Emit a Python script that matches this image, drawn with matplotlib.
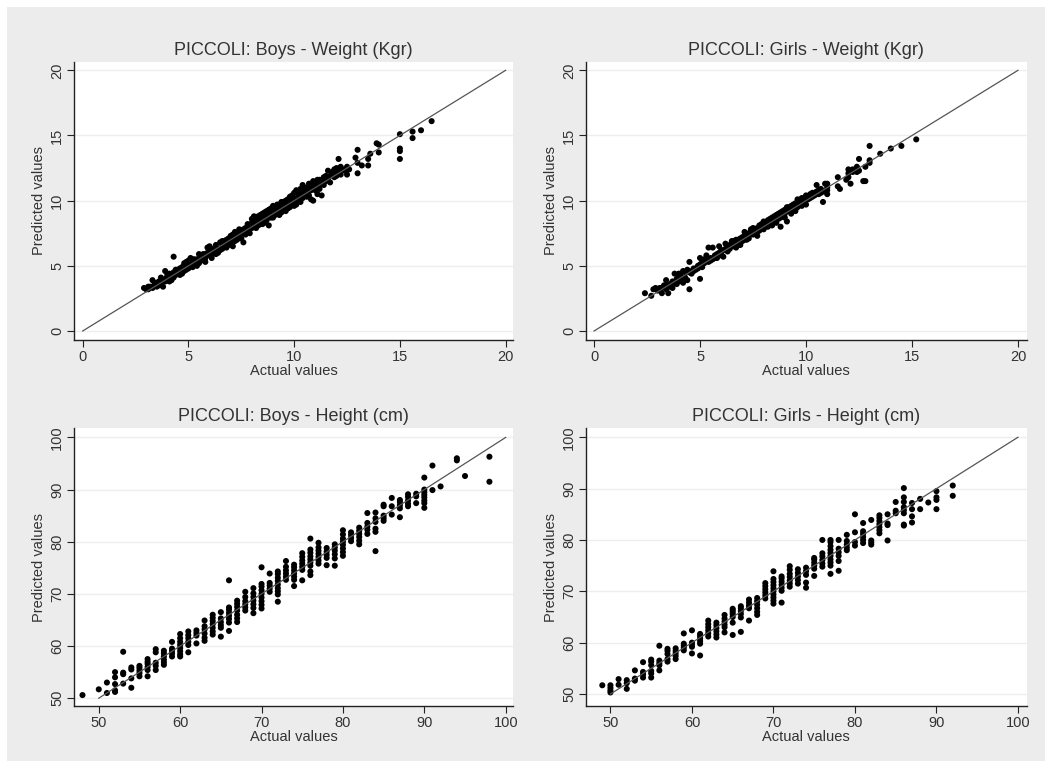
import numpy as np
import matplotlib
matplotlib.use("Agg")
import matplotlib.pyplot as plt
from matplotlib.patches import Rectangle

# ---------------------------------------------------------------------------
# Data
# ---------------------------------------------------------------------------

# Boys weight (actual, predicted) in kg
boys_w_actual = [2.9, 3.0, 3.1, 3.2, 3.3, 3.3, 3.4, 3.5, 3.5, 3.6, 3.7, 3.7, 3.8, 3.8, 3.9, 3.9, 4.0, 4.0,
                 4.1, 4.2, 4.2, 4.3, 4.3, 4.4, 4.4, 4.5, 4.6, 4.6, 4.7, 4.7, 4.8, 4.8, 4.9, 4.9, 5.0, 5.0,
                 5.1, 5.1, 5.2, 5.2, 5.3, 5.4, 5.4, 5.5, 5.5, 5.6, 5.7, 5.7, 5.8, 5.8, 5.9, 5.9, 6.0, 6.0,
                 6.1, 6.1, 6.2, 6.2, 6.3, 6.3, 6.4, 6.5, 6.5, 6.6, 6.6, 6.7, 6.7, 6.8, 6.9, 6.9, 7.0, 7.0,
                 7.1, 7.1, 7.2, 7.2, 7.3, 7.3, 7.4, 7.5, 7.5, 7.6, 7.6, 7.7, 7.7, 7.8, 7.8, 7.9, 8.0, 8.0,
                 8.1, 8.1, 8.2, 8.2, 8.3, 8.3, 8.4, 8.4, 8.5, 8.5, 8.6, 8.6, 8.7, 8.7, 8.8, 8.8, 8.9, 8.9,
                 9.0, 9.0, 9.1, 9.1, 9.2, 9.3, 9.3, 9.4, 9.5, 9.5, 9.6, 9.7, 9.7, 9.8, 9.9, 9.9, 10.0, 10.0,
                 10.1, 10.1, 10.2, 10.3, 10.3, 10.4, 10.4, 10.5, 10.6, 10.6, 10.7, 10.8, 10.8, 10.9, 10.9,
                 11.0, 11.0, 11.1, 11.2, 11.2, 11.3, 11.4, 11.5, 11.6, 11.6, 11.7, 11.8, 11.9, 12.0, 12.0,
                 12.1, 12.1, 12.2, 12.3, 12.5, 12.5, 12.6, 12.9, 13.0, 13.0, 13.0, 13.2, 13.5, 13.5, 13.6,
                 13.9, 14.0, 14.0, 15.0, 15.0, 15.0, 15.0, 15.6, 15.6, 16.0, 16.5,
                 3.1, 3.4, 3.6, 3.9, 4.1, 4.3, 4.5, 4.6, 4.8, 5.0, 5.2, 5.3, 5.5, 5.6, 5.8, 6.0, 6.1, 6.3,
                 6.4, 6.6, 6.8, 6.8, 7.0, 7.1, 7.2, 7.4, 7.4, 7.6, 7.8, 7.9, 8.0, 8.1, 8.2, 8.3, 8.4, 8.5,
                 8.6, 8.7, 8.8, 8.9, 9.0, 9.1, 9.2, 9.2, 9.3, 9.4, 9.4, 9.5, 9.6, 9.6, 9.7, 9.8, 9.8, 9.9,
                 10.0, 10.0, 10.1, 10.2, 10.2, 10.3, 10.4, 10.5, 10.5, 10.6, 10.7, 10.7, 10.8, 10.9, 11.0,
                 11.1, 11.2, 11.3, 11.4, 11.5, 11.7, 11.8, 11.9, 12.0, 12.2, 12.4]
boys_w_pred = [3.3, 3.2, 3.2, 3.4, 3.3, 3.9, 3.5, 3.6, 3.4, 3.8, 3.6, 4.1, 3.4, 3.9, 4.6, 4.0, 3.9, 4.3,
               3.8, 4.2, 3.9, 5.7, 4.5, 4.3, 4.7, 4.4, 4.8, 4.5, 4.9, 4.4, 5.0, 4.6, 5.3, 4.7, 5.1, 4.8,
               5.6, 5.0, 5.2, 4.9, 5.5, 5.3, 5.0, 5.6, 5.2, 5.4, 5.9, 5.5, 5.6, 5.3, 6.0, 6.4, 6.5, 5.8,
               5.9, 5.6, 6.2, 6.0, 6.4, 5.9, 6.3, 6.8, 6.2, 6.6, 6.3, 6.9, 6.5, 6.7, 7.1, 6.6, 7.3, 6.8,
               7.0, 6.5, 7.6, 7.2, 7.4, 7.0, 7.5, 7.6, 7.1, 7.5, 6.8, 7.9, 7.4, 8.0, 7.6, 7.8, 8.3, 7.9,
               8.5, 8.0, 8.3, 7.9, 8.8, 8.4, 8.6, 8.2, 9.0, 8.5, 8.7, 8.3, 9.2, 8.8, 8.9, 8.1, 9.4, 9.0,
               9.2, 8.7, 9.5, 9.1, 9.3, 9.7, 8.9, 9.5, 9.9, 9.3, 9.6, 10.1, 9.4, 9.9, 10.4, 9.7, 10.2, 9.6,
               10.8, 10.0, 10.3, 10.6, 9.9, 11.2, 10.5, 10.7, 11.0, 10.3, 10.9, 11.3, 10.1, 11.1, 10.0,
               11.4, 10.8, 10.5, 11.6, 11.2, 10.4, 11.8, 11.5, 12.3, 11.7, 11.9, 12.2, 11.8, 12.5, 11.9,
               13.2, 12.3, 12.6, 12.4, 12.6, 12.0, 12.4, 13.3, 13.9, 12.1, 12.9, 12.7, 13.2, 12.7, 13.6,
               14.4, 14.3, 13.7, 15.1, 14.0, 13.8, 13.2, 15.3, 14.8, 15.4, 16.1,
               3.4, 3.7, 3.5, 3.8, 4.4, 4.1, 4.7, 4.3, 5.2, 5.4, 5.5, 5.1, 5.9, 5.7, 5.9, 6.2, 6.3, 6.6,
               6.0, 6.9, 7.0, 6.4, 7.1, 7.4, 6.9, 7.8, 7.2, 7.8, 8.2, 7.5, 8.6, 8.8, 8.6, 8.1, 8.9, 8.2,
               9.1, 8.5, 9.3, 8.7, 9.6, 8.9, 9.7, 9.0, 9.4, 9.9, 9.1, 9.6, 10.0, 9.2, 9.8, 10.3, 9.5, 10.1,
               10.6, 9.9, 9.7, 10.6, 10.0, 10.9, 10.2, 11.0, 10.4, 10.6, 11.3, 10.4, 10.8, 11.5, 11.1,
               11.6, 10.9, 11.5, 11.2, 11.9, 11.4, 12.0, 12.4, 12.2, 12.0, 12.3]

# Girls weight (actual, predicted) in kg
girls_w_actual = [2.4, 2.7, 2.8, 2.9, 3.0, 3.1, 3.2, 3.3, 3.4, 3.4, 3.5, 3.5, 3.6, 3.7, 3.7, 3.8, 3.8, 3.9,
                  4.0, 4.0, 4.1, 4.2, 4.2, 4.3, 4.4, 4.4, 4.5, 4.5, 4.5, 4.6, 4.7, 4.8, 4.9, 5.0, 5.0, 5.0,
                  5.1, 5.1, 5.2, 5.3, 5.3, 5.4, 5.4, 5.5, 5.6, 5.6, 5.7, 5.8, 5.9, 5.9, 6.0, 6.0, 6.1, 6.2,
                  6.2, 6.3, 6.4, 6.4, 6.5, 6.5, 6.6, 6.7, 6.7, 6.8, 6.9, 6.9, 7.0, 7.0, 7.1, 7.1, 7.2, 7.3,
                  7.3, 7.4, 7.5, 7.5, 7.6, 7.7, 7.7, 7.8, 7.8, 7.9, 8.0, 8.0, 8.1, 8.2, 8.2, 8.3, 8.4, 8.4,
                  8.5, 8.6, 8.6, 8.7, 8.8, 8.8, 8.9, 9.0, 9.0, 9.1, 9.1, 9.2, 9.3, 9.3, 9.4, 9.5, 9.5, 9.6,
                  9.6, 9.7, 9.8, 9.8, 9.9, 10.0, 10.0, 10.1, 10.2, 10.3, 10.4, 10.5, 10.5, 10.6, 10.7, 10.8,
                  10.9, 10.9, 11.0, 11.0, 11.5, 11.5, 11.6, 11.9, 12.0, 12.0, 12.0, 12.1, 12.2, 12.4, 12.5,
                  12.5, 12.7, 12.8, 12.8, 13.0, 13.0, 13.0, 13.5, 14.0, 14.5, 15.2,
                  3.2, 3.4, 3.6, 3.9, 4.1, 4.3, 4.6, 4.7, 4.9, 5.1, 5.2, 5.4, 5.5, 5.7, 5.8, 6.0, 6.1, 6.3,
                  6.4, 6.6, 6.6, 6.8, 6.8, 7.0, 7.1, 7.2, 7.3, 7.4, 7.5, 7.6, 7.7, 7.8, 7.9, 8.0, 8.1, 8.2,
                  8.3, 8.4, 8.5, 8.6, 8.7, 8.8, 8.9, 9.0, 9.1, 9.2, 9.3, 9.4, 9.5, 9.6, 9.7, 9.8, 9.9, 10.0,
                  10.1, 10.2, 10.3, 10.4, 10.5, 10.6, 10.7, 10.8, 11.0, 11.0, 12.2, 12.4]
girls_w_pred = [2.9, 2.7, 3.2, 3.3, 3.1, 3.3, 2.9, 3.5, 3.2, 3.9, 2.9, 3.4, 3.6, 3.8, 3.3, 4.4, 3.7, 4.0,
                4.4, 3.8, 4.2, 4.6, 3.7, 4.1, 4.7, 3.9, 3.2, 5.3, 4.5, 4.6, 4.8, 4.7, 5.0, 5.6, 4.0, 5.1,
                5.3, 4.9, 5.2, 5.8, 5.4, 6.4, 5.3, 5.6, 6.4, 5.5, 5.8, 5.6, 6.5, 6.0, 6.2, 5.8, 5.7, 6.7,
                6.3, 6.1, 6.6, 6.3, 6.9, 6.5, 6.7, 7.0, 6.4, 6.8, 7.1, 6.6, 7.2, 6.9, 7.6, 7.0, 7.3, 7.5,
                7.1, 7.6, 7.9, 7.4, 7.6, 7.9, 7.3, 8.1, 7.7, 8.0, 8.4, 7.8, 8.2, 8.5, 8.0, 8.3, 8.7, 8.1,
                8.6, 8.9, 8.3, 8.6, 9.1, 8.0, 8.9, 9.3, 8.7, 9.5, 8.4, 9.2, 9.6, 9.0, 9.4, 9.8, 9.2, 10.1,
                9.5, 9.8, 10.2, 9.6, 9.9, 10.4, 9.7, 10.1, 10.5, 10.3, 10.6, 11.2, 10.5, 10.8, 10.6, 9.9,
                11.3, 10.7, 11.0, 10.5, 11.8, 11.1, 10.9, 11.6, 12.4, 11.8, 12.1, 11.3, 12.2, 12.6, 13.2,
                12.3, 11.5, 11.5, 12.6, 14.2, 13.1, 12.9, 13.6, 14.0, 14.2, 14.7,
                3.3, 3.5, 3.4, 3.6, 4.0, 4.5, 4.4, 4.6, 4.8, 5.1, 5.5, 5.5, 5.4, 5.6, 5.9, 6.0, 6.2, 6.4,
                6.5, 6.5, 6.9, 7.0, 6.6, 7.0, 7.3, 7.0, 7.3, 7.8, 7.6, 7.8, 7.6, 7.9, 8.2, 8.1, 8.0, 8.3,
                8.6, 8.4, 8.8, 8.6, 9.0, 8.7, 9.2, 9.0, 9.2, 9.5, 9.3, 9.7, 9.5, 9.8, 10.0, 9.9, 10.2, 10.1,
                10.3, 10.2, 10.6, 10.4, 10.7, 10.5, 10.9, 10.7, 10.8, 11.3, 12.4, 12.2]

# Height: actual values are whole cm, predicted values stacked over each of them
boys_h_actual = [48, 50, 51, 52, 53, 54, 55, 56, 57, 58, 59, 60, 61, 62, 63, 64, 65, 66, 67, 68, 69, 70,
                 71, 72, 73, 74, 75, 76, 77, 78, 79, 80, 81, 82, 83, 84, 85, 86, 87, 88, 89, 90, 91, 92,
                 94, 95, 98]
boys_h_pred = [
    [50.6], [51.7], [51.0, 53.0], [51.2, 51.5, 52.7, 54.0, 55.0], [52.8, 54.6, 54.9, 58.9],
    [52.0, 53.8, 55.5, 55.9], [54.2, 54.8, 55.3, 55.8, 56.2], [54.2, 55.4, 56.0, 56.6, 57.0, 57.5],
    [55.4, 56.2, 56.8, 58.8, 59.4], [56.4, 56.9, 57.4, 58.0, 58.6, 59.1], [58.0, 58.6, 59.1, 59.5, 60.8],
    [58.0, 58.4, 59.0, 59.6, 60.2, 60.8, 61.5, 62.3], [58.8, 60.2, 60.8, 61.5, 62.1, 62.8],
    [60.5, 62.0, 62.5, 63.0], [61.0, 61.6, 62.4, 63.2, 63.8, 64.9],
    [62.2, 62.8, 63.5, 64.2, 64.8, 65.4, 66.0], [61.8, 63.5, 64.0, 64.6, 65.3, 66.5],
    [62.9, 64.5, 65.2, 65.8, 66.4, 67.0, 67.4, 72.6], [64.6, 65.3, 66.0, 66.8, 67.5, 68.1, 68.7],
    [66.8, 67.4, 68.0, 68.6, 69.4, 70.4], [66.3, 67.3, 68.0, 68.7, 69.4, 70.1, 71.1],
    [67.2, 67.9, 68.6, 69.3, 70.0, 70.7, 71.4, 71.9, 75.1], [70.4, 71.0, 71.6, 72.1, 73.9],
    [68.5, 69.9, 70.5, 71.1, 71.8, 72.5, 73.1, 73.8, 74.3], [72.7, 73.3, 73.9, 74.5, 75.2, 76.3],
    [71.5, 72.7, 73.3, 73.9, 74.5, 75.1, 75.6], [72.6, 74.6, 75.2, 75.8, 76.4, 77.1, 77.8],
    [73.6, 74.3, 75.4, 76.0, 76.6, 77.2, 77.9, 78.5, 80.6], [75.8, 76.4, 77.1, 77.7, 78.3, 78.9, 79.8],
    [75.5, 76.9, 77.5, 78.1, 78.8], [75.4, 76.8, 77.6, 78.3, 78.9, 79.5],
    [77.3, 78.0, 78.7, 79.4, 80.0, 80.6, 81.4, 82.2], [80.1, 80.7, 81.3, 81.8],
    [79.5, 80.2, 80.9, 81.5, 82.1, 82.7], [81.5, 82.3, 82.9, 83.6, 85.5],
    [78.2, 81.9, 82.5, 83.8, 84.5, 85.6], [84.0, 84.5, 85.0, 86.8, 87.1], [85.2, 86.8, 88.4],
    [84.7, 86.4, 87.0, 87.6, 88.0], [86.8, 87.3, 87.9, 88.6, 89.1], [87.4, 88.7, 89.2],
    [86.5, 87.4, 87.9, 88.5, 89.0, 89.5, 90.0, 92.3], [89.9, 94.6], [90.6], [95.6, 96.0], [92.6],
    [91.5, 96.3]]

girls_h_actual = [49, 50, 51, 52, 53, 54, 55, 56, 57, 58, 59, 60, 61, 62, 63, 64, 65, 66, 67, 68, 69, 70,
                  71, 72, 73, 74, 75, 76, 77, 78, 79, 80, 81, 82, 83, 84, 85, 86, 87, 88, 89, 90, 92]
girls_h_pred = [
    [51.7], [50.3, 50.7, 51.2, 51.7], [51.8, 52.9], [51.0, 52.1, 52.7], [52.6, 53.0, 54.6],
    [53.2, 53.8, 54.3, 56.2], [53.2, 54.0, 54.5, 55.6, 56.3, 56.7], [54.6, 55.6, 56.0, 56.5, 59.4],
    [56.3, 56.8, 57.8, 58.4, 58.8], [56.8, 57.4, 57.9, 58.4, 58.9], [58.5, 59.0, 59.4, 59.8, 61.8],
    [57.9, 59.2, 59.6, 60.0, 62.4], [57.5, 59.8, 60.3, 60.8, 61.3, 61.7],
    [61.2, 61.8, 62.4, 63.0, 63.6, 64.3], [61.0, 61.6, 62.2, 62.8, 63.4, 63.9],
    [62.0, 63.0, 63.5, 64.1, 64.7, 65.4], [61.5, 63.9, 65.0, 65.5, 65.9, 66.3, 66.6],
    [62.1, 64.9, 65.6, 66.2, 66.7, 67.1], [64.3, 66.7, 67.2, 67.8, 68.4],
    [65.4, 66.0, 66.7, 67.4, 68.1, 68.7], [68.6, 69.2, 69.8, 70.4, 71.0, 71.6],
    [67.6, 68.2, 68.8, 69.4, 70.0, 70.6, 71.2, 71.8, 72.4, 73.9], [67.8, 70.1, 70.7, 71.3, 71.9, 72.5, 72.9],
    [70.9, 71.5, 72.1, 72.8, 73.4, 74.2, 74.9], [71.5, 72.2, 72.9, 73.6, 74.3],
    [70.7, 71.7, 73.2, 73.9, 74.6], [73.0, 74.4, 75.0, 75.6, 76.2, 76.5],
    [74.8, 75.4, 76.1, 76.8, 77.4, 80.0], [73.4, 75.0, 75.6, 76.2, 76.9, 77.5, 78.1, 78.8, 79.6, 80.0],
    [74.0, 75.9, 76.9, 77.6, 78.3, 80.0], [78.0, 78.5, 79.1, 79.8, 81.0], [78.9, 79.6, 81.5, 85.0],
    [79.4, 80.0, 80.6, 81.2, 81.7, 83.3], [79.1, 79.5, 79.9, 83.9],
    [81.3, 81.9, 82.5, 83.1, 83.7, 84.3, 84.8], [79.9, 82.9, 83.2, 85.0], [85.2, 85.7, 87.4],
    [82.8, 83.0, 85.2, 85.8, 86.4, 87.4, 88.3, 90.1], [83.4, 84.6, 86.0, 87.2], [86.0, 88.0], [87.3],
    [86.0, 87.8, 88.3, 89.5], [88.6, 90.6]]

titles = ['PICCOLI: Boys - Weight (Kgr)', 'PICCOLI: Girls - Weight (Kgr)',
          'PICCOLI: Boys - Height (cm)', 'PICCOLI: Girls - Height (cm)']


def expand(actual, pred):
    """ Turns columns of stacked predictions into flat x/y arrays """
    xs, ys = [], []
    for a, plist in zip(actual, pred):
        for p in plist:
            xs.append(a)
            ys.append(p)
    return np.array(xs), np.array(ys)


def main():
    plt.rcParams['font.family'] = ['Liberation Sans', 'DejaVu Sans']
    text_col = '#333333'

    fig = plt.figure(figsize=[10.53, 7.69], dpi=100, facecolor='white')
    # grey graph region inside a thin white border
    fig.patches.append(Rectangle((7 / 1053, 1 - 761 / 769), 1038 / 1053, 754 / 769,
                                 transform=fig.transFigure, facecolor='#ececec',
                                 edgecolor='none', zorder=-10))

    boxes = [[0.0703, 0.5579, 0.4169, 0.3615], [0.5565, 0.5579, 0.4185, 0.3615],
             [0.0703, 0.0819, 0.4169, 0.3615], [0.5565, 0.0819, 0.4185, 0.3615]]
    limits = [((-0.41, 20.35), (-0.69, 20.64)), ((-0.38, 20.41), (-0.69, 20.64)),
              ((46.96, 100.9), (48.5, 101.8)), ((47.0, 101.07), (47.66, 101.8))]

    bh_x, bh_y = expand(boys_h_actual, boys_h_pred)
    gh_x, gh_y = expand(girls_h_actual, girls_h_pred)
    datasets = [(boys_w_actual, boys_w_pred), (girls_w_actual, girls_w_pred),
                (bh_x, bh_y), (gh_x, gh_y)]

    for i in range(4):
        ax = fig.add_axes(boxes[i])
        ax.set_facecolor('white')
        xs, ys = datasets[i]
        if i < 2:
            ticks = [0, 5, 10, 15, 20]
            line = [0, 20]
        else:
            ticks = [50, 60, 70, 80, 90, 100]
            line = [50, 100]

        ax.plot(line, line, color='#555555', lw=0.9, zorder=3)
        ax.scatter(xs, ys, s=19, color='black', edgecolors='none', zorder=2)

        ax.set_xlim(limits[i][0])
        ax.set_ylim(limits[i][1])
        ax.set_xticks(ticks)
        ax.set_yticks(ticks)
        ax.yaxis.grid(True, color='#eeeeee', lw=1.0)
        ax.set_axisbelow(True)

        for side in ['top', 'right']:
            ax.spines[side].set_visible(False)
        for side in ['left', 'bottom']:
            ax.spines[side].set_color('#222222')
            ax.spines[side].set_linewidth(1.0)

        ax.tick_params(length=5, width=0.8, color='#222222', labelsize=10.5,
                       labelcolor=text_col, pad=2)
        ax.tick_params(axis='y', labelrotation=90)
        for lab in ax.get_yticklabels():
            lab.set_va('center')

        ax.set_title(titles[i], fontsize=13, color=text_col, pad=5)
        ax.set_xlabel('Actual values', fontsize=10.5, color=text_col, labelpad=0)
        ax.set_ylabel('Predicted values', fontsize=10.5, color=text_col, labelpad=3)

    fig.savefig('out.png', dpi=100, facecolor='white')


if __name__ == '__main__':
    main()
